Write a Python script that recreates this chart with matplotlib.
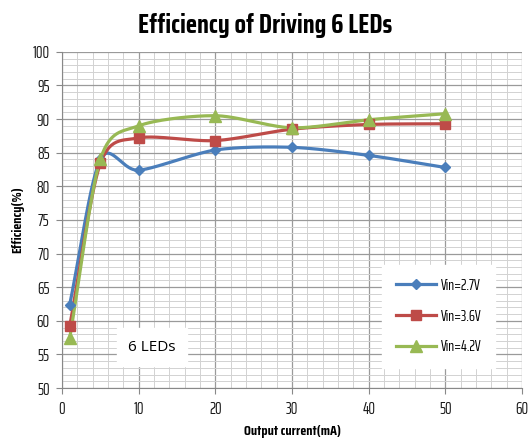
import matplotlib.pyplot as plt
import numpy as np
from matplotlib.ticker import MultipleLocator

# Data
current = [1, 5, 10, 20, 30, 40, 50]
vin27 = [62.4, 84.0, 82.4, 85.4, 85.8, 84.6, 82.8]
vin36 = [59.2, 83.4, 87.2, 86.8, 88.5, 89.2, 89.3]
vin42 = [57.4, 84.0, 89.0, 90.5, 88.7, 89.9, 90.8]
labels = ['Vin=2.7V', 'Vin=3.6V', 'Vin=4.2V']


def smooth(x, y, n=30, k=7.0):  # Bezier curve through the points, like Excel's smoothed line
    x = np.asarray(x, float)
    y = np.asarray(y, float)
    px = np.concatenate([[2 * x[0] - x[1]], x, [2 * x[-1] - x[-2]]])
    py = np.concatenate([[2 * y[0] - y[1]], y, [2 * y[-1] - y[-2]]])
    xs, ys = [], []
    t = np.linspace(0, 1, n)
    for i in range(1, len(px) - 2):
        for p, out in ((px, xs), (py, ys)):
            p0, p1, p2, p3 = p[i - 1], p[i], p[i + 1], p[i + 2]
            c1 = p1 + (p2 - p0) / k
            c2 = p2 - (p3 - p1) / k
            out.extend((1 - t) ** 3 * p1 + 3 * (1 - t) ** 2 * t * c1 + 3 * (1 - t) * t ** 2 * c2 + t ** 3 * p2)
    return xs, ys


cond = ['Saira ExtraCondensed', 'DejaVu Sans']
cond_b = ['Saira Condensed', 'DejaVu Sans']

fig = plt.figure(figsize=(5.3, 4.43), dpi=100)
ax = fig.add_axes([0.117, 0.124, 0.868, 0.759])

styles = [('#4a7ebb', 'D', 5.5), ('#be4b48', 's', 7.5), ('#98b954', '^', 8)]
for series, lab, (col, mk, ms) in zip([vin27, vin36, vin42], labels, styles):
    sx, sy = smooth(current, series)
    ax.plot(sx, sy, color=col, lw=2.3, zorder=3)
    ax.plot(current, series, ls='none', marker=mk, ms=ms, color=col, zorder=4)
    ax.plot([], [], color=col, lw=2.3, marker=mk, ms=ms, label=lab)

ax.set_xlim(0, 60)
ax.set_ylim(50, 100)
ax.xaxis.set_major_locator(MultipleLocator(10))
ax.xaxis.set_minor_locator(MultipleLocator(2))
ax.yaxis.set_major_locator(MultipleLocator(5))
ax.yaxis.set_minor_locator(MultipleLocator(1))
ax.grid(which='major', color='#9a9a9a', lw=0.9)
ax.grid(which='minor', color='#d2d2d2', lw=0.7)
ax.set_axisbelow(True)
for s in ['top', 'right']:
    ax.spines[s].set_visible(False)
for s in ['left', 'bottom']:
    ax.spines[s].set_color('#888888')
ax.tick_params(which='major', length=4, color='#888888', labelsize=12, pad=5)
ax.tick_params(which='minor', length=0)
for t in ax.get_xticklabels() + ax.get_yticklabels():
    t.set_family(cond)
    t.set_color('#1a1a1a')

fig.suptitle('Efficiency of Driving 6 LEDs', x=0.5, y=0.97, fontsize=19,
             fontweight='bold', family=cond_b)
ax.set_xlabel('Output current(mA)', fontsize=10, fontweight='bold', family=cond_b, labelpad=6)
ax.set_ylabel('Efficiency(%)', fontsize=10, fontweight='bold', family=cond_b, labelpad=6)

leg = ax.legend(loc='upper left', bbox_to_anchor=(0.69, 0.375), frameon=True,
                prop={'family': cond, 'size': 11}, labelspacing=1.1,
                handlelength=2.6, handletextpad=0.3, borderpad=0.6)
leg.get_frame().set_edgecolor('white')
leg.get_frame().set_alpha(1)
leg.get_frame().set_boxstyle('square')

ax.text(11.7, 56.1, '6 LEDs', fontsize=11, ha='center', va='center',
        family=['Open Sans', 'DejaVu Sans'],
        bbox=dict(facecolor='white', edgecolor='white', pad=8), zorder=2)

plt.savefig('out.png')
